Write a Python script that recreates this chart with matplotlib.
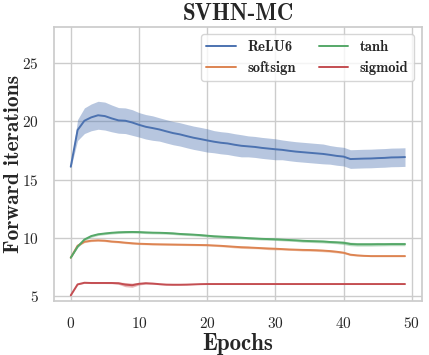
import numpy as np
import matplotlib
matplotlib.use("Agg")
import matplotlib.pyplot as plt
import seaborn as sns

epochs = list(range(50))

relu6_mean = [16.1, 19.25, 20.05, 20.34, 20.52, 20.45, 20.25, 20.08, 20.05, 19.9,
              19.7, 19.53, 19.42, 19.3, 19.14, 18.99, 18.88, 18.73, 18.59, 18.48,
              18.36, 18.25, 18.16, 18.1, 17.99, 17.9, 17.85, 17.8, 17.72, 17.66,
              17.6, 17.55, 17.47, 17.4, 17.35, 17.3, 17.25, 17.2, 17.12, 17.03,
              16.97, 16.76, 16.78, 16.8, 16.81, 16.84, 16.86, 16.9, 16.91, 16.93]
relu6_std = [0.1, 0.9, 1.1, 1.15, 1.2, 1.2, 1.15, 1.1, 1.1, 1.1,
             1.05, 1.05, 1.05, 1.0, 1.0, 1.0, 1.0, 1.0, 1.0, 1.0,
             1.0, 0.95, 0.95, 0.95, 0.95, 0.95, 0.9, 0.9, 0.9, 0.9,
             0.9, 0.85, 0.85, 0.85, 0.85, 0.85, 0.85, 0.85, 0.8, 0.8,
             0.8, 0.8, 0.8, 0.8, 0.8, 0.8, 0.8, 0.8, 0.8, 0.8]

softsign_mean = [8.29, 9.32, 9.66, 9.75, 9.78, 9.75, 9.68, 9.64, 9.58, 9.53,
                 9.49, 9.47, 9.45, 9.44, 9.43, 9.42, 9.41, 9.4, 9.39, 9.38,
                 9.37, 9.34, 9.31, 9.27, 9.23, 9.19, 9.17, 9.14, 9.11, 9.08,
                 9.06, 9.03, 9.0, 8.98, 8.96, 8.95, 8.93, 8.9, 8.86, 8.8,
                 8.72, 8.55, 8.49, 8.45, 8.43, 8.43, 8.43, 8.43, 8.43, 8.43]
softsign_std = [0.02, 0.06, 0.08, 0.08, 0.08, 0.08, 0.08, 0.08, 0.08, 0.08,
                0.07, 0.07, 0.07, 0.07, 0.07, 0.07, 0.07, 0.07, 0.07, 0.07,
                0.07, 0.07, 0.08, 0.08, 0.1, 0.1, 0.1, 0.08, 0.08, 0.1,
                0.1, 0.08, 0.08, 0.08, 0.1, 0.1, 0.1, 0.1, 0.1, 0.1,
                0.08, 0.08, 0.06, 0.05, 0.05, 0.05, 0.05, 0.05, 0.05, 0.05]

tanh_mean = [8.29, 9.23, 9.85, 10.15, 10.3, 10.37, 10.43, 10.47, 10.49, 10.5,
             10.49, 10.46, 10.44, 10.43, 10.41, 10.38, 10.33, 10.3, 10.27, 10.23,
             10.18, 10.13, 10.1, 10.07, 10.04, 10.01, 9.97, 9.94, 9.91, 9.89,
             9.87, 9.84, 9.81, 9.78, 9.74, 9.72, 9.7, 9.68, 9.64, 9.61,
             9.57, 9.47, 9.44, 9.44, 9.44, 9.45, 9.45, 9.46, 9.46, 9.46]
tanh_std = [0.02, 0.08, 0.1, 0.1, 0.1, 0.1, 0.1, 0.1, 0.1, 0.1,
            0.1, 0.1, 0.1, 0.1, 0.1, 0.1, 0.1, 0.1, 0.1, 0.1,
            0.1, 0.1, 0.1, 0.1, 0.1, 0.1, 0.1, 0.1, 0.1, 0.1,
            0.1, 0.1, 0.1, 0.1, 0.12, 0.12, 0.12, 0.12, 0.12, 0.12,
            0.15, 0.15, 0.15, 0.15, 0.15, 0.15, 0.14, 0.14, 0.14, 0.14]

sigmoid_mean = [5.06, 6.0, 6.14, 6.12, 6.12, 6.12, 6.12, 6.1, 5.98, 5.93,
                6.05, 6.1, 6.07, 6.02, 5.98, 5.97, 5.97, 5.98, 6.0, 6.02,
                6.03, 6.03, 6.03, 6.03, 6.03, 6.03, 6.03, 6.03, 6.03, 6.03,
                6.03, 6.03, 6.03, 6.03, 6.03, 6.03, 6.03, 6.03, 6.03, 6.03,
                6.03, 6.03, 6.03, 6.03, 6.03, 6.03, 6.03, 6.03, 6.03, 6.03]
sigmoid_std = [0.02, 0.04, 0.05, 0.05, 0.05, 0.05, 0.06, 0.1, 0.18, 0.18,
               0.1, 0.08, 0.06, 0.05, 0.04, 0.04, 0.03, 0.03, 0.02, 0.02,
               0.02, 0.02, 0.02, 0.02, 0.02, 0.02, 0.02, 0.02, 0.02, 0.02,
               0.02, 0.02, 0.02, 0.02, 0.02, 0.02, 0.02, 0.02, 0.02, 0.02,
               0.02, 0.02, 0.02, 0.02, 0.02, 0.02, 0.02, 0.02, 0.02, 0.02]

labels = ["ReLU6", "softsign", "tanh", "sigmoid"]
title = "SVHN-MC"
xlabel = "Epochs"
ylabel = "Forward iterations"
xticks = [0, 10, 20, 30, 40, 50]
yticks = [5, 10, 15, 20, 25]

sns.set_theme(style="whitegrid")
plt.rcParams["font.family"] = ["cmr10", "DejaVu Serif"]
plt.rcParams["axes.formatter.use_mathtext"] = True
plt.rcParams["mathtext.fontset"] = "cm"

pal = sns.color_palette("deep")
colors = [pal[0], pal[1], pal[2], pal[3]]

fig = plt.figure(figsize=(4.29, 3.55), dpi=100)
ax = fig.add_axes([0.126, 0.152, 0.857, 0.772])

means = [relu6_mean, softsign_mean, tanh_mean, sigmoid_mean]
stds = [relu6_std, softsign_std, tanh_std, sigmoid_std]
x = np.array(epochs)
for m, s, lab, c in zip(means, stds, labels, colors):
    m = np.array(m); s = np.array(s)
    ax.plot(x, m, color=c, lw=1.4, label=lab)
    ax.fill_between(x, m - s, m + s, color=c, alpha=0.4, lw=0)

ax.set_ylim(4.57, 28.1)
ax.set_xticks(xticks)
ax.set_yticks(yticks)
ax.tick_params(labelsize=11, pad=5)
for t in ax.get_xticklabels() + ax.get_yticklabels():
    t.set_fontfamily("cmr10")
ax.set_title(title, fontsize=16.5, fontfamily="cmb10", pad=5)
ax.set_xlabel(xlabel, fontsize=16.5, fontfamily="cmb10", labelpad=1)
ax.set_ylabel(ylabel, fontsize=15.5, fontfamily="cmb10")
ax.yaxis.set_label_coords(-0.084, 0.5)
for sp in ax.spines.values():
    sp.set_color("0.8")
ax.grid(color="0.8", lw=1.0)
leg = ax.legend(ncol=2, loc="upper right", prop={"family": "cmb10", "size": 10.5},
                columnspacing=1.6, handlelength=2.0, borderaxespad=0.5,
                handletextpad=0.8, frameon=True, edgecolor="0.8")
fig.savefig("out.png", dpi=100)
